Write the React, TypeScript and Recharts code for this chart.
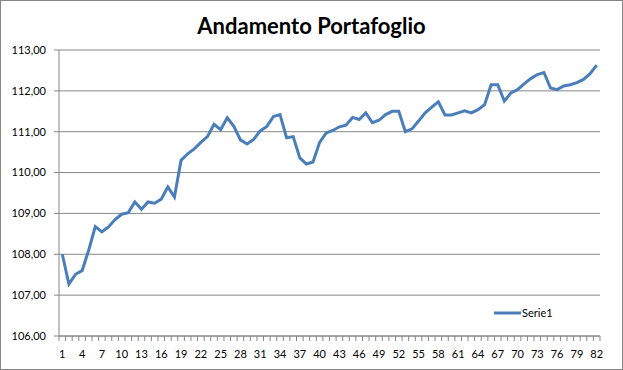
import React from 'react';
import { LineChart, Line, XAxis, YAxis, CartesianGrid } from 'recharts';

const seriesName = 'Serie1';
const chartTitle = 'Andamento Portafoglio';

const values: number[] = [
  108.0, 107.27, 107.51, 107.6, 108.1, 108.68, 108.55, 108.67, 108.85, 108.98,
  109.02, 109.28, 109.1, 109.28, 109.25, 109.35, 109.65, 109.4, 110.3, 110.46,
  110.58, 110.74, 110.88, 111.18, 111.05, 111.34, 111.13, 110.8, 110.7, 110.81,
  111.02, 111.13, 111.37, 111.42, 110.85, 110.88, 110.36, 110.21, 110.26, 110.74,
  110.97, 111.03, 111.12, 111.16, 111.35, 111.3, 111.46, 111.22, 111.28, 111.42,
  111.5, 111.5, 111.0, 111.07, 111.26, 111.46, 111.6, 111.73, 111.41, 111.41,
  111.46, 111.51, 111.46, 111.54, 111.66, 112.15, 112.15, 111.75, 111.95, 112.03,
  112.17, 112.3, 112.4, 112.45, 112.07, 112.03, 112.12, 112.15, 112.2, 112.28,
  112.42, 112.63,
];

const categories: number[] = values.map((_, i) => i + 1);
const xLabelTicks: number[] = categories.filter((c) => (c - 1) % 3 === 0);
const xBoundaryTicks: number[] = [0, ...categories].map((c) => c + 0.5);
const yTicks: number[] = [106, 107, 108, 109, 110, 111, 112, 113];

const data = categories.map((c, i) => ({ x: c, value: values[i] }));
const allXTicks = [...xBoundaryTicks, ...xLabelTicks].sort((a, b) => a - b);

const FONT = 'Lato, "Open Sans", sans-serif';
const GRAY = '#868686';
const BLUE = '#4A7EBB';

const XTick = (props: any) => {
  const { x, y, payload } = props;
  const v = payload.value as number;
  if (v % 1 !== 0) {
    return <line x1={x} x2={x} y1={y} y2={y + 5} stroke={GRAY} strokeWidth={1} />;
  }
  return (
    <text x={x} y={y + 22} textAnchor="middle" fontSize={11} fontFamily={FONT} fill="#000">
      {String(v)}
    </text>
  );
};

export default function App() {
  return (
    <div style={{ position: 'absolute', left: 0, top: 0, width: 623, height: 370, background: '#fff' }}>
      <div
        style={{
          position: 'absolute', left: 0, top: 0, width: 623, height: 370,
          boxSizing: 'border-box', border: `1px solid ${GRAY}`, pointerEvents: 'none', zIndex: 2,
        }}
      />
      <div
        style={{
          position: 'absolute', left: 0, top: 12, width: 623, textAlign: 'center',
          fontFamily: FONT, fontWeight: 700, fontSize: 22, color: '#000', lineHeight: '28px',
        }}
      >
        {chartTitle}
      </div>
      <div style={{ position: 'absolute', left: 0, top: 0 }}>
        <LineChart width={623} height={370} data={data} margin={{ top: 50, right: 23, bottom: 0, left: 0 }}>
          <CartesianGrid horizontal vertical={false} stroke={GRAY} strokeWidth={1} />
          <XAxis
            dataKey="x"
            type="number"
            domain={[0.5, 82.5]}
            ticks={allXTicks}
            interval={0}
            tickSize={0}
            tickMargin={0}
            tickLine={false}
            axisLine={{ stroke: GRAY }}
            tick={<XTick />}
            height={34}
          />
          <YAxis
            type="number"
            domain={[106, 113]}
            ticks={yTicks}
            interval={0}
            width={59}
            tickSize={5}
            tickMargin={8}
            axisLine={{ stroke: GRAY }}
            tickLine={{ stroke: GRAY }}
            tick={{ fontSize: 11, fontFamily: FONT, fill: '#000' }}
            tickFormatter={(v: number) => v.toFixed(2).replace('.', ',')}
          />
          <Line
            type="linear"
            dataKey="value"
            name={seriesName}
            stroke={BLUE}
            strokeWidth={3}
            dot={false}
            activeDot={false}
            isAnimationActive={false}
          />
        </LineChart>
      </div>
      <div
        style={{
          position: 'absolute', left: 494, top: 306, display: 'flex', alignItems: 'center',
          fontFamily: FONT, fontSize: 11, color: '#000', lineHeight: '14px',
        }}
      >
        <svg width={27} height={6} style={{ display: 'block' }}>
          <line x1={0} x2={27} y1={3} y2={3} stroke={BLUE} strokeWidth={3} />
        </svg>
        <span style={{ marginLeft: 1 }}>{seriesName}</span>
      </div>
    </div>
  );
}
